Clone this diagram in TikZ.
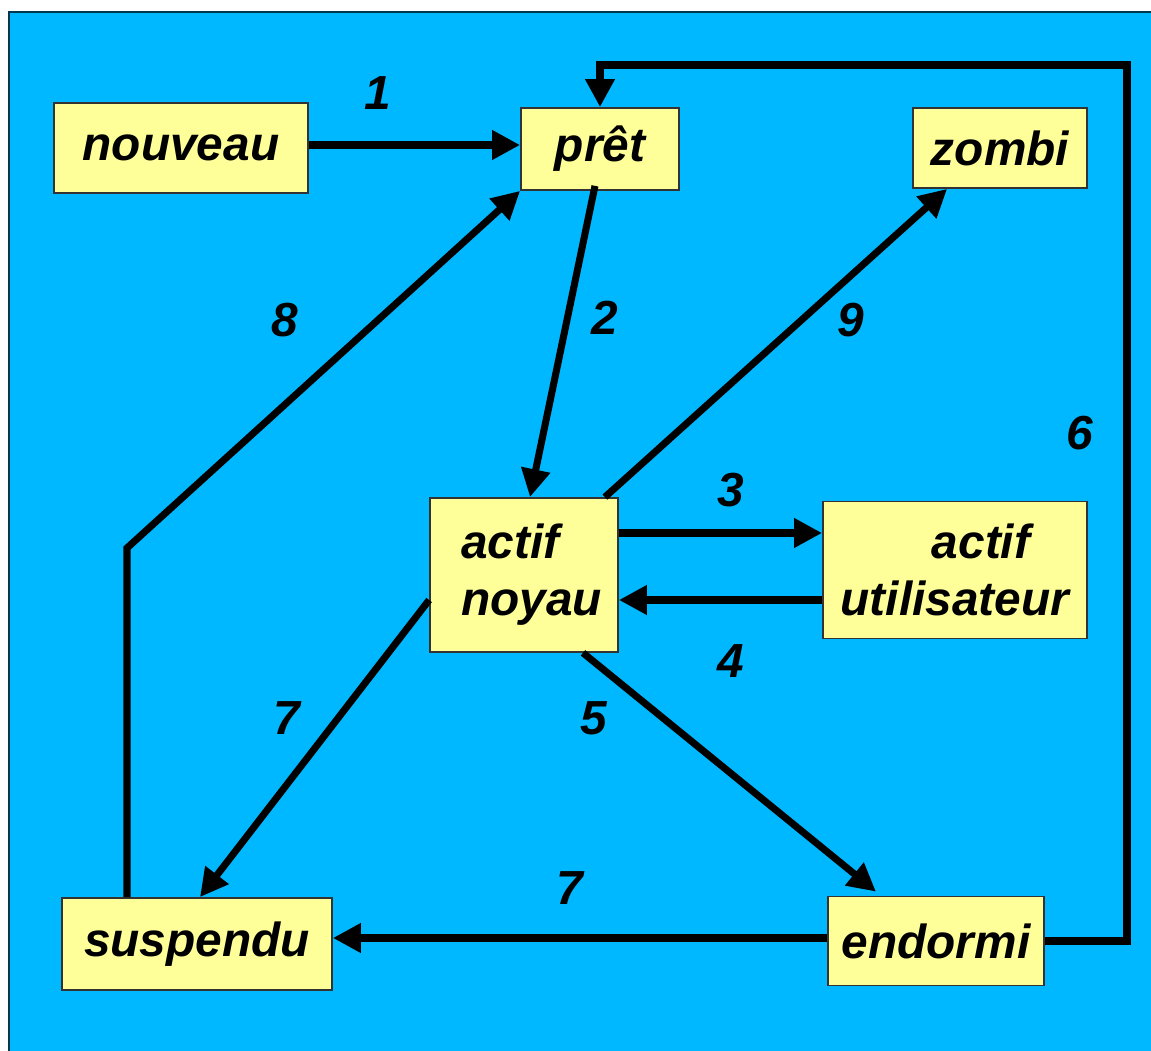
\documentclass[tikz,border=0pt]{standalone}
\usepackage{fontspec}
\setmainfont{Liberation Sans}
\usetikzlibrary{arrows.meta}
\definecolor{fond}{RGB}{0,184,255}
\definecolor{jaune}{RGB}{255,255,153}
\begin{document}
\begin{tikzpicture}[line width=2pt,>={Triangle[length=0.28cm,width=0.28cm]},
    font=\fontsize{13.6}{16.3}\selectfont\bfseries\itshape,
    etat/.style={draw=black!80,line width=0.5pt,fill=jaune,inner sep=0pt},
    num/.style={inner sep=0pt}]
\useasboundingbox(0,0)rectangle(11.51,10.5);
\fill[fond,draw=black!70!fond,line width=0.6pt](0.09,-0.2)rectangle(11.7,10.38);
% les etats
\node[etat,minimum width=2.54cm,minimum height=0.90cm](nouveau)at(1.81,9.02){nouveau};
\node[etat,minimum width=1.58cm,minimum height=0.82cm](pret)at(6.00,9.01){prêt};
\node[etat,minimum width=1.74cm,minimum height=0.80cm](zombi)at(10.00,9.02){zombi};
\node[etat,minimum width=1.88cm,minimum height=1.54cm,align=left](noyau)at(5.24,4.75){\hspace*{0.15cm}actif\\\hspace*{0.15cm}noyau};
\node[etat,minimum width=2.64cm,minimum height=1.37cm,align=center](util)at(9.55,4.80){\hspace*{0.52cm}actif\\utilisateur};
\node[etat,minimum width=2.70cm,minimum height=0.92cm](suspendu)at(1.97,1.06){suspendu};
\node[etat,minimum width=2.16cm,minimum height=0.89cm](endormi)at(9.36,1.09){endormi};
\coordinate(coude8)at(1.27,5.02);
\coordinate(coude6)at(11.27,9.85);
% les transitions
\draw[->]([yshift=0.03cm]nouveau.east)--([yshift=0.03cm]nouveau.east-|pret.west);
\draw[->]([xshift=-0.05cm,yshift=0.05cm]pret.south)--([xshift=0.06cm]noyau.north);
\draw[->](coude8|-suspendu.north)--(coude8)--(pret.south west);
\draw[->]([xshift=-0.14cm]noyau.north east)--([xshift=0.35cm]zombi.south west);
\draw[->](endormi.east)-|(coude6)-|(pret.north);
\draw[->]([yshift=0.42cm]noyau.east)--([yshift=0.42cm]noyau.east-|util.west);
\draw[->]([yshift=-0.30cm]util.west)--([yshift=-0.30cm]util.west-|noyau.east);
\draw[->]([yshift=-0.25cm]noyau.west)--([xshift=0.03cm]suspendu.north);
\draw[->]([xshift=0.59cm]noyau.south)--([xshift=-0.6cm,yshift=0.04cm]endormi.north);
\draw[->]([yshift=0.03cm]endormi.west)--([yshift=0.06cm]suspendu.east);
% les numeros
\node[num](n1)at(3.78,9.57){1};
\node[num](n2)at(6.05,7.32){2};
\node[num](n8)at(2.85,7.30){8};
\node[num](n9)at(8.51,7.30){9};
\node[num](n6)at(10.80,6.17){6};
\node[num](n3)at(7.31,5.60){3};
\node[num](n4)at(7.31,3.89){4};
\node[num](n7a)at(2.87,3.32){7};
\node[num](n5)at(5.94,3.32){5};
\node[num](n7b)at(5.70,1.62){7};
\end{tikzpicture}
\end{document}
